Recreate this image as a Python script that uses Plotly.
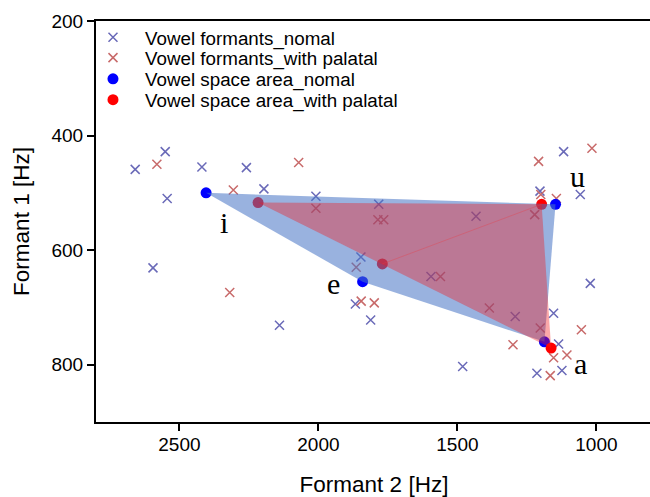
import plotly.graph_objects as go

# ---- data (F2, F1 in Hz) ----
normal_f2 = [2659, 2551, 2419, 2259, 2544, 2196, 2009, 2595, 2140, 1783, 1433, 1118, 1058,
             1203, 1847, 1867, 1812, 1481, 1595, 1022, 1292, 1154, 1136, 1214, 1124]
normal_f1 = [459, 428, 455, 456, 510, 493, 506, 631, 731, 520, 541, 428, 503,
             497, 612, 694, 722, 803, 646, 658, 716, 710, 764, 815, 810]

palatal_f2 = [2581, 2071, 2306, 2009, 2319, 1786, 1765, 1208, 1016, 1144, 1222, 1200,
              1864, 1561, 1846, 1799, 1385, 1054, 1202, 1300, 1154, 1106, 1166]
palatal_f1 = [450, 447, 495, 527, 674, 547, 547, 445, 422, 510, 538, 503,
              630, 646, 689, 692, 701, 739, 736, 765, 788, 783, 819]

vowels = ["i", "u", "a", "e"]
area_normal_f2 = [2404, 1147, 1187, 1841]
area_normal_f1 = [500, 520, 760, 655]
area_palatal_f2 = [2217, 1197, 1163, 1770]
area_palatal_f1 = [517, 520, 771, 624]

label_f2 = [2338, 1069, 1058, 1946]
label_f1 = [552, 471, 798, 658]

xticks = [2500, 2000, 1500, 1000]
yticks = [200, 400, 600, 800]

FONT = "Liberation Sans, Arial, sans-serif"

fig = go.Figure()

fig.add_trace(go.Scatter(
    x=normal_f2, y=normal_f1, mode="markers", name="Vowel formants_nomal",
    marker=dict(symbol="x-thin", size=9, color="#6a6ab8",
                line=dict(width=1.5, color="#6a6ab8")),
    legend="legend"))
fig.add_trace(go.Scatter(
    x=palatal_f2, y=palatal_f1, mode="markers", name="Vowel formants_with palatal",
    marker=dict(symbol="x-thin", size=9, color="#c86a6a",
                line=dict(width=1.5, color="#c86a6a")),
    legend="legend2"))
fig.add_trace(go.Scatter(
    x=area_normal_f2, y=area_normal_f1, mode="markers", name="Vowel space area_nomal",
    marker=dict(symbol="circle", size=11, color="#0000ff"),
    legend="legend3"))
fig.add_trace(go.Scatter(
    x=area_palatal_f2, y=area_palatal_f1, mode="markers", name="Vowel space area_with palatal",
    marker=dict(symbol="circle", size=11, color="#ff0000"),
    legend="legend4"))

# polygons drawn over the points
fig.add_trace(go.Scatter(
    x=area_normal_f2 + area_normal_f2[:1], y=area_normal_f1 + area_normal_f1[:1],
    mode="lines", fill="toself", fillcolor="rgba(70,114,196,0.55)",
    line=dict(width=0, color="rgba(0,0,0,0)"), showlegend=False, hoverinfo="skip"))
fig.add_trace(go.Scatter(
    x=area_palatal_f2 + area_palatal_f2[:1], y=area_palatal_f1 + area_palatal_f1[:1],
    mode="lines", fill="toself", fillcolor="rgba(242,26,28,0.38)",
    line=dict(width=0, color="rgba(0,0,0,0)"), showlegend=False, hoverinfo="skip"))
# faint triangulation seam inside the palatal polygon (e -> u)
fig.add_trace(go.Scatter(
    x=[area_palatal_f2[3], area_palatal_f2[1]], y=[area_palatal_f1[3], area_palatal_f1[1]],
    mode="lines", line=dict(width=1, color="rgba(235,60,70,0.35)"),
    showlegend=False, hoverinfo="skip"))

for t, x, y in zip(vowels, label_f2, label_f1):
    fig.add_annotation(x=x, y=y, text=t, showarrow=False,
                       font=dict(family="Liberation Serif, Times New Roman, serif",
                                 size=30, color="black"))

leg_common = dict(x=-0.027, xanchor="left", yanchor="middle", bgcolor="rgba(0,0,0,0)",
                  itemwidth=54,
                  font=dict(family=FONT, size=18.8, color="black"), borderwidth=0)
ys = [0.959, 0.908, 0.855, 0.803]

fig.update_layout(
    width=652, height=497,
    margin=dict(l=96, r=0, t=21, b=75, autoexpand=False),
    paper_bgcolor="white", plot_bgcolor="white",
    font=dict(family=FONT, color="black"),
    legend=dict(y=ys[0], **leg_common),
    legend2=dict(y=ys[1], **leg_common),
    legend3=dict(y=ys[2], **leg_common),
    legend4=dict(y=ys[3], **leg_common),
    xaxis=dict(range=[2800, 800], tickvals=xticks, ticks="outside", ticklen=7, tickwidth=1.5,
               tickcolor="black", showline=True, linecolor="black", linewidth=2, mirror=True,
               showgrid=False, zeroline=False, tickfont=dict(size=19, family=FONT),
               automargin=False, ticklabelstandoff=-3,
               title=dict(text="Formant 2 [Hz]", font=dict(size=22.5, family=FONT),
                          standoff=23)),
    yaxis=dict(range=[900, 200], tickvals=yticks, ticks="outside", ticklen=7, tickwidth=1.5,
               tickcolor="black", showline=True, linecolor="black", linewidth=2, mirror=False,
               showgrid=False, zeroline=False, tickfont=dict(size=19, family=FONT),
               automargin=False, ticklabelstandoff=0,
               title=dict(text="Formant 1 [Hz]", font=dict(size=22.5, family=FONT),
                          standoff=16)),
)

fig.write_html("out.html", config={"displayModeBar": False},
               post_script="document.body.style.margin='0';document.body.style.overflow='hidden';")
